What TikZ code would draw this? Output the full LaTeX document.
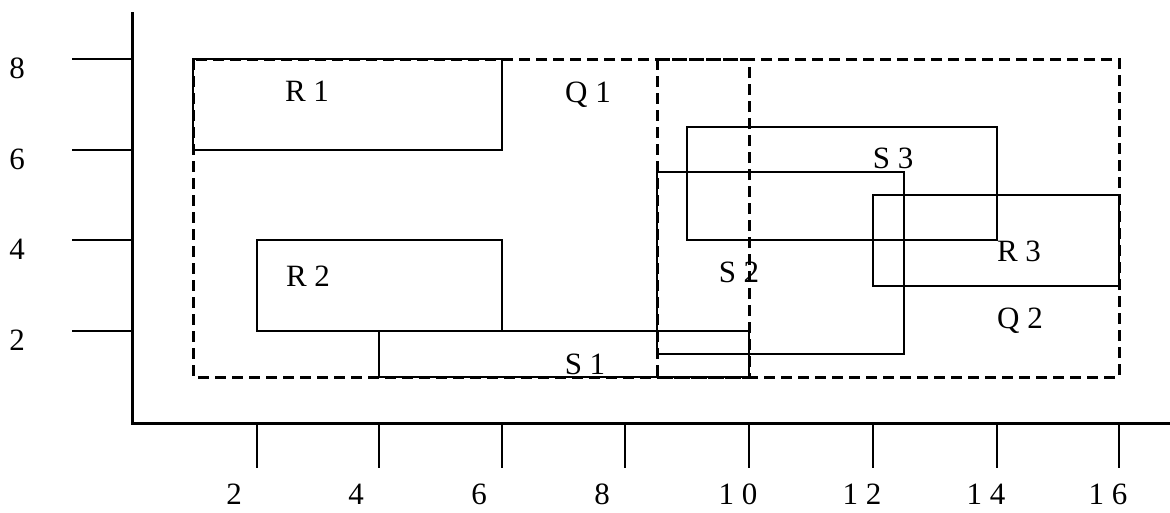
\documentclass[tikz,border=0pt]{standalone}
\usepackage{fontspec}
\setmainfont{Liberation Serif}
\begin{document}
\begin{tikzpicture}[x=1pt,y=-1pt,
  axisline/.style={line width=3pt},
  tickline/.style={line width=2.4pt},
  boxline/.style={draw,line width=2.3pt},
  quadline/.style={draw,line width=3pt,dash pattern=on 11pt off 6pt},
  lbl/.style={anchor=base,inner sep=0pt,font=\fontsize{31}{31}\selectfont}]
\useasboundingbox (0,0) rectangle (1170,512);

% axes
\coordinate (ytop) at (132,12);
\coordinate (orig) at (132,423);
\coordinate (xend) at (1170,423);
\draw[axisline] (ytop) -- (orig) -- (xend);

% x ticks and labels
\foreach \px/\t/\dx in {257/2/-23,379/4/-23,502/6/-23,625/8/-23,749/1 0/-11,873/1 2/-11,997/1 4/-11,1119/1 6/-11}{
  \coordinate (xt) at (\px,423);
  \coordinate (xb) at (\px,468);
  \draw[tickline] (xt) -- (xb);
  \node[lbl] (xl) at (\px+\dx,504) {\t};
}

% y ticks and labels
\foreach \py/\t in {59/8,150/6,240/4,331/2}{
  \coordinate (yl) at (72,\py);
  \coordinate (yr) at (132,\py);
  \draw[tickline] (yl) -- (yr);
  \node[lbl] (ylab) at (17,\py+19) {\t};
}

% solid rectangles
\draw[boxline] (193,59) rectangle (502,150);   % R1
\draw[boxline] (257,240) rectangle (502,331);  % R2
\draw[boxline] (379,331) rectangle (749,377);  % S1
\draw[boxline] (657,172) rectangle (904,354);  % S2
\draw[boxline] (687,127) rectangle (997,240);  % S3
\draw[boxline] (873,195) rectangle (1119,286); % R3

% dashed quadrant regions
\draw[quadline] (193,59) rectangle (749,377);  % Q1
\draw[quadline] (657,59) rectangle (1119,377); % Q2

% region labels
\node[lbl] (r1) at (307,101) {R 1};
\node[lbl] (q1) at (588,102) {Q 1};
\node[lbl] (r2) at (308,286) {R 2};
\node[lbl] (s1) at (585,374) {S 1};
\node[lbl] (s2) at (739,282) {S 2};
\node[lbl] (s3) at (893,168) {S 3};
\node[lbl] (r3) at (1019,261) {R 3};
\node[lbl] (q2) at (1020,328) {Q 2};
\end{tikzpicture}
\end{document}
